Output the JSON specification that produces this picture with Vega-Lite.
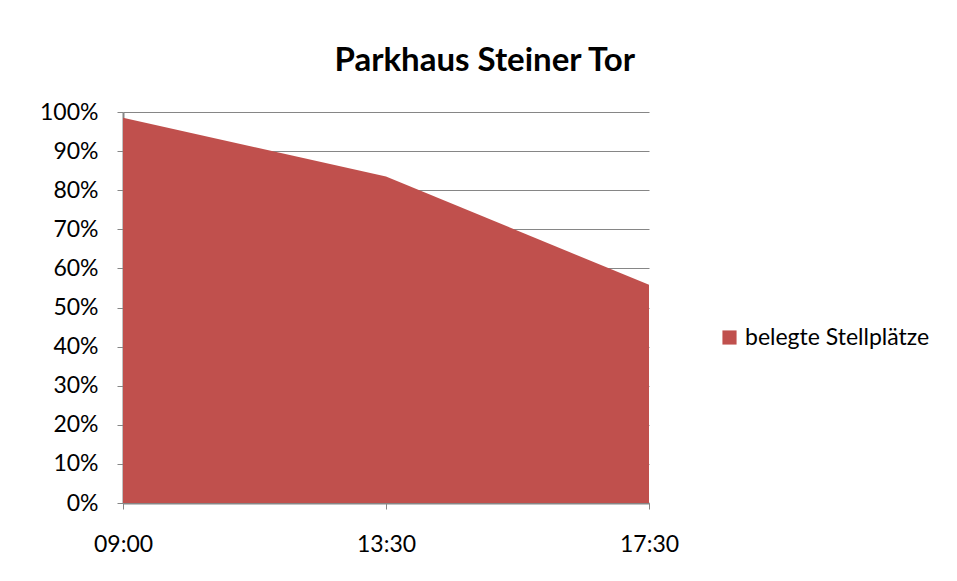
{
  "$schema": "https://vega.github.io/schema/vega-lite/v6.json",
  "width": 526,
  "height": 391,
  "autosize": {"type": "none"},
  "padding": {"left": 123, "top": 112, "right": 308, "bottom": 78},
  "background": "white",
  "title": {
    "text": "Parkhaus Steiner Tor",
    "font": "Lato",
    "fontSize": 33,
    "fontWeight": "bold",
    "color": "black",
    "anchor": "middle",
    "frame": "bounds",
    "offset": 23
  },
  "data": {
    "values": [
      {"zeit": "09:00", "anteil": 0.985, "serie": "belegte Stellplätze"},
      {"zeit": "13:30", "anteil": 0.835, "serie": "belegte Stellplätze"},
      {"zeit": "17:30", "anteil": 0.558, "serie": "belegte Stellplätze"}
    ]
  },
  "mark": {"type": "area", "opacity": 1},
  "encoding": {
    "x": {
      "field": "zeit",
      "type": "ordinal",
      "sort": null,
      "scale": {"type": "point", "padding": 0},
      "axis": {
        "title": null,
        "labelAngle": 0,
        "labelFont": "Lato",
        "labelFontSize": 23,
        "labelColor": "black",
        "labelPadding": 24,
        "tickColor": "#868686",
        "tickSize": 6,
        "domainColor": "#868686",
        "domainWidth": 2,
        "grid": false
      }
    },
    "y": {
      "field": "anteil",
      "type": "quantitative",
      "scale": {"domain": [0, 1], "nice": false},
      "axis": {
        "title": null,
        "format": ".0%",
        "values": [0, 0.1, 0.2, 0.3, 0.4, 0.5, 0.6, 0.7, 0.8, 0.9, 1],
        "labelFont": "Lato",
        "labelFontSize": 23,
        "labelColor": "black",
        "labelPadding": 19,
        "tickColor": "#868686",
        "tickSize": 6,
        "domainColor": "#868686",
        "domainWidth": 2,
        "gridColor": "#868686",
        "gridWidth": 1
      }
    },
    "color": {
      "field": "serie",
      "type": "nominal",
      "scale": {"range": ["#C0504D"]},
      "legend": {
        "title": null,
        "orient": "none",
        "legendX": 595,
        "legendY": 214,
        "symbolType": "square",
        "symbolSize": 200,
        "symbolOpacity": 1,
        "labelFont": "Lato",
        "labelFontSize": 23,
        "labelLimit": 400,
        "labelColor": "black"
      }
    }
  },
  "config": {"view": {"stroke": null}}
}
